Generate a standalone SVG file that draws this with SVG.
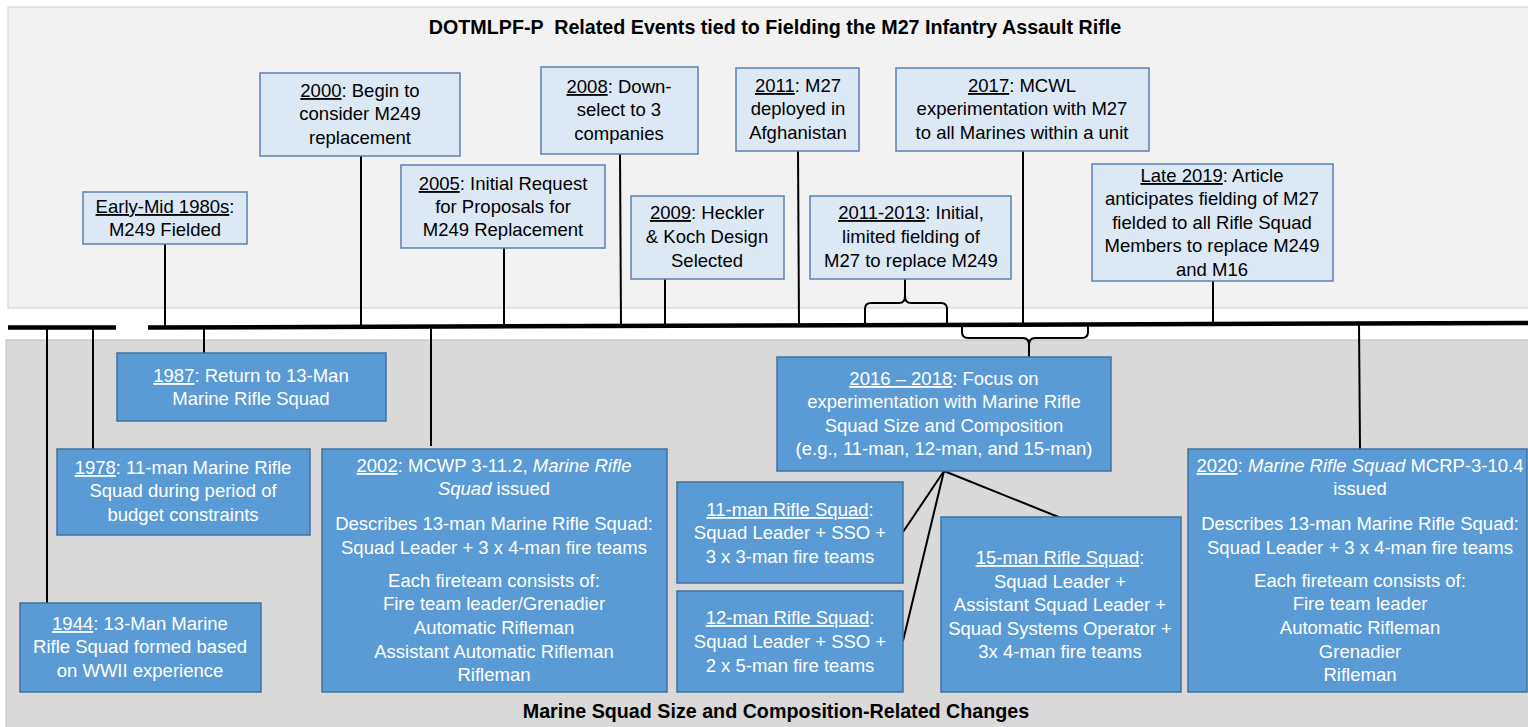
<svg xmlns="http://www.w3.org/2000/svg" width="1528" height="727" viewBox="0 0 1528 727">
  <style>
    .t { font-family: "Liberation Sans", Arial, sans-serif; font-size: 18.5px; text-anchor: middle; }
    .lt { fill: #000; }
    .dk { fill: #fff; }
    .u { text-decoration: underline; }
    .i { font-style: italic; }
    .hd { font-family: "Liberation Sans", Arial, sans-serif; font-size: 19.7px; font-weight: bold; text-anchor: middle; fill: #000; white-space: pre; }
    .lb { fill: #dde8f5; stroke: #5b80b0; stroke-width: 1.5; }
    .db { fill: #5b9bd5; stroke: #41719c; stroke-width: 1.5; }
    .c { stroke: #000; stroke-width: 2; fill: none; }
    .tl { stroke: #000; stroke-width: 4.5; fill: none; }
  </style>

  <!-- panels -->
  <rect x="0" y="0" width="1528" height="727" fill="#ffffff"/>
  <rect x="8" y="7" width="1521" height="301" fill="#f2f2f2" stroke="#cfcfcf" stroke-width="1"/>
  <rect x="6" y="340" width="1523" height="388" fill="#d9d9d9" stroke="#c0c0c0" stroke-width="1"/>

  <text class="hd" x="775" y="34">DOTMLPF-P  Related Events tied to Fielding the M27 Infantry Assault Rifle</text>
  <text class="hd" x="776" y="718">Marine Squad Size and Composition-Related Changes</text>

  <!-- connectors -->
  <g id="connectors">
    <line class="c" x1="165" y1="244" x2="165" y2="326"/>
    <line class="c" x1="361" y1="156" x2="361" y2="326"/>
    <line class="c" x1="504" y1="248" x2="504" y2="326"/>
    <line class="c" x1="620" y1="154" x2="621" y2="326"/>
    <line class="c" x1="665" y1="279" x2="665" y2="326"/>
    <line class="c" x1="798" y1="151" x2="799" y2="326"/>
    <line class="c" x1="1023" y1="151" x2="1023" y2="325"/>
    <line class="c" x1="1213" y1="281" x2="1213" y2="324"/>

    <line class="c" x1="47" y1="328" x2="47" y2="603"/>
    <line class="c" x1="93" y1="328" x2="93" y2="449"/>
    <line class="c" x1="204" y1="328" x2="204" y2="353"/>
    <line class="c" x1="431" y1="328" x2="431" y2="446"/>
    <line class="c" x1="1359" y1="324" x2="1360" y2="449"/>

    <!-- brace over the timeline, tip up -->
    <path class="c" d="M865,326 V309 Q865,303 871,303 H899 Q905,303 905,296 V271 M905,296 Q905,303 911,303 H941 Q947,303 947,309 V326"/>
    <!-- brace under the timeline, tip down -->
    <path class="c" d="M962,326 V332 Q962,338 968,338 H1023 Q1029,338 1029,345 V357 M1029,345 Q1029,338 1035,338 H1082 Q1088,338 1088,332 V325"/>

    <!-- squad option links -->
    <line class="c" x1="944" y1="471" x2="903" y2="532"/>
    <line class="c" x1="944" y1="471" x2="903" y2="641"/>
    <line class="c" x1="944" y1="471" x2="1061" y2="518"/>

    <!-- timeline -->
    <line class="tl" x1="8" y1="327.5" x2="116" y2="327.5"/>
    <line class="tl" x1="148" y1="327.5" x2="1528" y2="323"/>
  </g>

  <!-- upper events -->
  <g id="e1980s">
    <rect class="lb" x="83" y="192" width="164" height="52"/>
    <text class="t lt" x="165" y="213"><tspan class="u">Early-Mid 1980s</tspan>:</text>
    <text class="t lt" x="165" y="236">M249 Fielded</text>
  </g>
  <g id="e2000">
    <rect class="lb" x="260" y="73" width="200" height="83"/>
    <text class="t lt" x="360" y="97"><tspan class="u">2000</tspan>: Begin to</text>
    <text class="t lt" x="360" y="120">consider M249</text>
    <text class="t lt" x="360" y="144">replacement</text>
  </g>
  <g id="e2005">
    <rect class="lb" x="401" y="165" width="204" height="83"/>
    <text class="t lt" x="503" y="190"><tspan class="u">2005</tspan>: Initial Request</text>
    <text class="t lt" x="503" y="213">for Proposals for</text>
    <text class="t lt" x="503" y="236">M249 Replacement</text>
  </g>
  <g id="e2008">
    <rect class="lb" x="541" y="67" width="157" height="87"/>
    <text class="t lt" x="619" y="93"><tspan class="u">2008</tspan>: Down-</text>
    <text class="t lt" x="619" y="116">select to 3</text>
    <text class="t lt" x="619" y="140">companies</text>
  </g>
  <g id="e2009">
    <rect class="lb" x="631" y="196" width="153" height="83"/>
    <text class="t lt" x="707" y="219"><tspan class="u">2009</tspan>: Heckler</text>
    <text class="t lt" x="707" y="243">&amp; Koch Design</text>
    <text class="t lt" x="707" y="267">Selected</text>
  </g>
  <g id="e2011">
    <rect class="lb" x="736" y="68" width="123" height="83"/>
    <text class="t lt" x="798" y="92"><tspan class="u">2011</tspan>: M27</text>
    <text class="t lt" x="798" y="115">deployed in</text>
    <text class="t lt" x="798" y="139">Afghanistan</text>
  </g>
  <g id="e2011-2013">
    <rect class="lb" x="810" y="196" width="201" height="83"/>
    <text class="t lt" x="911" y="219"><tspan class="u">2011-2013</tspan>: Initial,</text>
    <text class="t lt" x="911" y="243">limited fielding of</text>
    <text class="t lt" x="911" y="267">M27 to replace M249</text>
  </g>
  <g id="e2017">
    <rect class="lb" x="896" y="68" width="253" height="83"/>
    <text class="t lt" x="1022" y="92"><tspan class="u">2017</tspan>: MCWL</text>
    <text class="t lt" x="1022" y="115">experimentation with M27</text>
    <text class="t lt" x="1022" y="139">to all Marines within a unit</text>
  </g>
  <g id="e2019">
    <rect class="lb" x="1092" y="164" width="241" height="117"/>
    <text class="t lt" x="1212" y="182"><tspan class="u">Late 2019</tspan>: Article</text>
    <text class="t lt" x="1212" y="205">anticipates fielding of M27</text>
    <text class="t lt" x="1212" y="229">fielded to all Rifle Squad</text>
    <text class="t lt" x="1212" y="252">Members to replace M249</text>
    <text class="t lt" x="1212" y="276">and M16</text>
  </g>

  <!-- lower events -->
  <g id="e1987">
    <rect class="db" x="117" y="353" width="269" height="68"/>
    <text class="t dk" x="251" y="382"><tspan class="u">1987</tspan>: Return to 13-Man</text>
    <text class="t dk" x="251" y="405">Marine Rifle Squad</text>
  </g>
  <g id="e1978">
    <rect class="db" x="57" y="449" width="253" height="86"/>
    <text class="t dk" x="183" y="474"><tspan class="u">1978</tspan>: 11-man Marine Rifle</text>
    <text class="t dk" x="183" y="497">Squad during period of</text>
    <text class="t dk" x="183" y="521">budget constraints</text>
  </g>
  <g id="e1944">
    <rect class="db" x="20" y="603" width="241" height="89"/>
    <text class="t dk" x="140" y="630"><tspan class="u">1944</tspan>: 13-Man Marine</text>
    <text class="t dk" x="140" y="653">Rifle Squad formed based</text>
    <text class="t dk" x="140" y="677">on WWII experience</text>
  </g>
  <g id="e2002">
    <rect class="db" x="322" y="449" width="345" height="243"/>
    <text class="t dk" x="494" y="472"><tspan class="u">2002</tspan>: MCWP 3-11.2, <tspan class="i">Marine Rifle</tspan></text>
    <text class="t dk" x="494" y="495"><tspan class="i">Squad</tspan> issued</text>
    <text class="t dk" x="494" y="530">Describes 13-man Marine Rifle Squad:</text>
    <text class="t dk" x="494" y="554">Squad Leader + 3 x 4-man fire teams</text>
    <text class="t dk" x="494" y="587">Each fireteam consists of:</text>
    <text class="t dk" x="494" y="610">Fire team leader/Grenadier</text>
    <text class="t dk" x="494" y="634">Automatic Rifleman</text>
    <text class="t dk" x="494" y="658">Assistant Automatic Rifleman</text>
    <text class="t dk" x="494" y="681">Rifleman</text>
  </g>
  <g id="e2016-2018">
    <rect class="db" x="777" y="357" width="334" height="114"/>
    <text class="t dk" x="944" y="385"><tspan class="u">2016 – 2018</tspan>: Focus on</text>
    <text class="t dk" x="944" y="408">experimentation with Marine Rifle</text>
    <text class="t dk" x="944" y="432">Squad Size and Composition</text>
    <text class="t dk" x="944" y="455">(e.g., 11-man, 12-man, and 15-man)</text>
  </g>
  <g id="s11">
    <rect class="db" x="677" y="482" width="226" height="101"/>
    <text class="t dk" x="790" y="516"><tspan class="u">11-man Rifle Squad</tspan>:</text>
    <text class="t dk" x="790" y="539">Squad Leader + SSO +</text>
    <text class="t dk" x="790" y="563">3 x 3-man fire teams</text>
  </g>
  <g id="s12">
    <rect class="db" x="677" y="591" width="226" height="101"/>
    <text class="t dk" x="790" y="624"><tspan class="u">12-man Rifle Squad</tspan>:</text>
    <text class="t dk" x="790" y="648">Squad Leader + SSO +</text>
    <text class="t dk" x="790" y="672">2 x 5-man fire teams</text>
  </g>
  <g id="s15">
    <rect class="db" x="941" y="517" width="240" height="175"/>
    <text class="t dk" x="1060" y="564"><tspan class="u">15-man Rifle Squad</tspan>:</text>
    <text class="t dk" x="1060" y="588">Squad Leader +</text>
    <text class="t dk" x="1060" y="611">Assistant Squad Leader +</text>
    <text class="t dk" x="1060" y="635">Squad Systems Operator +</text>
    <text class="t dk" x="1060" y="658">3x 4-man fire teams</text>
  </g>
  <g id="e2020">
    <rect class="db" x="1188" y="449" width="339" height="243"/>
    <text class="t dk" x="1360" y="472"><tspan class="u">2020</tspan>: <tspan class="i">Marine Rifle Squad</tspan> MCRP-3-10.4</text>
    <text class="t dk" x="1360" y="495">issued</text>
    <text class="t dk" x="1360" y="530">Describes 13-man Marine Rifle Squad:</text>
    <text class="t dk" x="1360" y="554">Squad Leader + 3 x 4-man fire teams</text>
    <text class="t dk" x="1360" y="587">Each fireteam consists of:</text>
    <text class="t dk" x="1360" y="610">Fire team leader</text>
    <text class="t dk" x="1360" y="634">Automatic Rifleman</text>
    <text class="t dk" x="1360" y="658">Grenadier</text>
    <text class="t dk" x="1360" y="681">Rifleman</text>
  </g>
</svg>
